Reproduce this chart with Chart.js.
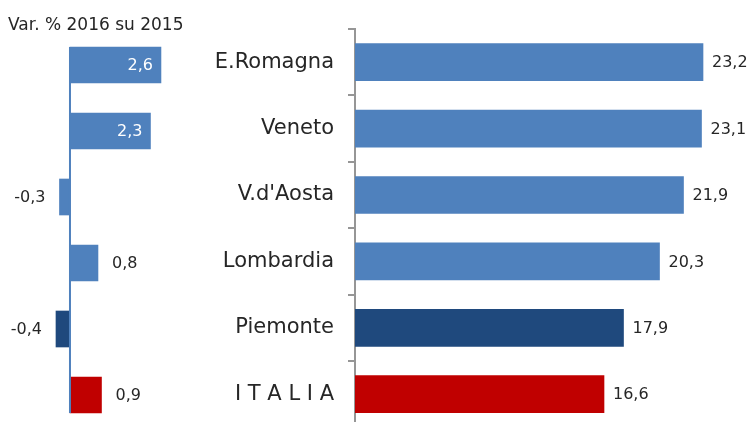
<!DOCTYPE html>
<html>
<head>
<meta charset="utf-8">
<script src="https://cdn.jsdelivr.net/npm/chart.js@4.4.1/dist/chart.umd.min.js"></script>
<style>
  html, body { margin: 0; padding: 0; background: #fff; overflow: hidden; }
  #wrap { position: relative; width: 750px; height: 422px; overflow: hidden; }
  #leftChart { position: absolute; left: 0; top: 0; }
  #rightChart { position: absolute; left: 200px; top: 0; }
  #title {
    position: absolute; left: 8px; top: 14px;
    font-family: "DejaVu Sans", sans-serif; font-size: 17px; color: #262626;
    white-space: nowrap;
  }
</style>
</head>
<body>
<div id="wrap">
  <canvas id="leftChart" width="190" height="440"></canvas>
  <canvas id="rightChart" width="550" height="454"></canvas>
  <div id="title">Var. % 2016 su 2015</div>
</div>
<script>
// Data
const regions = ["E.Romagna", "Veneto", "V.d'Aosta", "Lombardia", "Piemonte", "I T A L I A"];
const values2016 = [23.2, 23.1, 21.9, 20.3, 17.9, 16.6];
const varPct = [2.6, 2.3, -0.3, 0.8, -0.4, 0.9];
const barColors = ["#4f81bd", "#4f81bd", "#4f81bd", "#4f81bd", "#1f497d", "#c00000"];

const FONT = '"DejaVu Sans", sans-serif';

function fmt(v) {
  return v.toFixed(1).replace(".", ",");
}

// Draws value labels next to (or inside) each bar
const valueLabels = {
  id: "valueLabels",
  afterDatasetsDraw(chart, args, opts) {
    const ctx = chart.ctx;
    const meta = chart.getDatasetMeta(0);
    const data = chart.data.datasets[0].data;
    ctx.save();
    ctx.font = "16px " + FONT;
    ctx.textBaseline = "middle";
    meta.data.forEach((bar, i) => {
      const v = data[i];
      const txt = fmt(v);
      if (opts.insideFrom !== undefined && v >= opts.insideFrom) {
        ctx.fillStyle = "#ffffff";
        ctx.textAlign = "right";
        ctx.fillText(txt, bar.x - 8, bar.y + 1);
      } else if (v >= 0) {
        ctx.fillStyle = "#262626";
        ctx.textAlign = "left";
        ctx.fillText(txt, bar.x + opts.gap, bar.y + 1);
      } else {
        ctx.fillStyle = "#262626";
        ctx.textAlign = "right";
        ctx.fillText(txt, bar.x - opts.gap, bar.y + 1);
      }
    });
    ctx.restore();
  },
};

// Zero line of the small chart, only as tall as the bars
const zeroLine = {
  id: "zeroLine",
  afterDatasetsDraw(chart) {
    const meta = chart.getDatasetMeta(0);
    const first = meta.data[0];
    const last = meta.data[meta.data.length - 1];
    const x = chart.scales.x.getPixelForValue(0);
    const ctx = chart.ctx;
    ctx.save();
    ctx.strokeStyle = "#4f81bd";
    ctx.lineWidth = 2;
    ctx.beginPath();
    ctx.moveTo(x, first.y - first.height / 2);
    ctx.lineTo(x, last.y + last.height / 2);
    ctx.stroke();
    ctx.restore();
  },
};

// Left chart: variation
new Chart(document.getElementById("leftChart").getContext("2d"), {
  type: "bar",
  data: {
    labels: regions,
    datasets: [{
      data: varPct,
      backgroundColor: barColors,
      barThickness: 36,
    }],
  },
  options: {
    indexAxis: "y",
    responsive: false,
    animation: false,
    layout: { padding: { top: 32, bottom: 12, left: 0, right: 0 } },
    scales: {
      x: { display: false, min: -2, max: 3.43 },
      y: { display: false },
    },
    plugins: {
      legend: { display: false },
      tooltip: { enabled: false },
      valueLabels: { gap: 14, insideFrom: 2 },
    },
  },
  plugins: [zeroLine, valueLabels],
});

// Right chart: main values
new Chart(document.getElementById("rightChart").getContext("2d"), {
  type: "bar",
  data: {
    labels: regions,
    datasets: [{
      data: values2016,
      backgroundColor: barColors,
      barThickness: 37,
    }],
  },
  options: {
    indexAxis: "y",
    responsive: false,
    animation: false,
    layout: { padding: { top: 29, bottom: 13, left: 0, right: 5 } },
    scales: {
      x: { display: false, min: 0, max: 26 },
      y: {
        afterFit(scale) { scale.width = 155; },
        border: { display: true, color: "#969696", width: 2 },
        grid: {
          offset: true,
          drawOnChartArea: false,
          drawTicks: true,
          tickLength: 7,
          color: "#969696",
          lineWidth: 2,
        },
        ticks: {
          color: "#262626",
          padding: 14,
          font: { family: FONT, size: 21 },
        },
      },
    },
    plugins: {
      legend: { display: false },
      tooltip: { enabled: false },
      valueLabels: { gap: 9 },
    },
  },
  plugins: [valueLabels],
});
</script>
</body>
</html>
